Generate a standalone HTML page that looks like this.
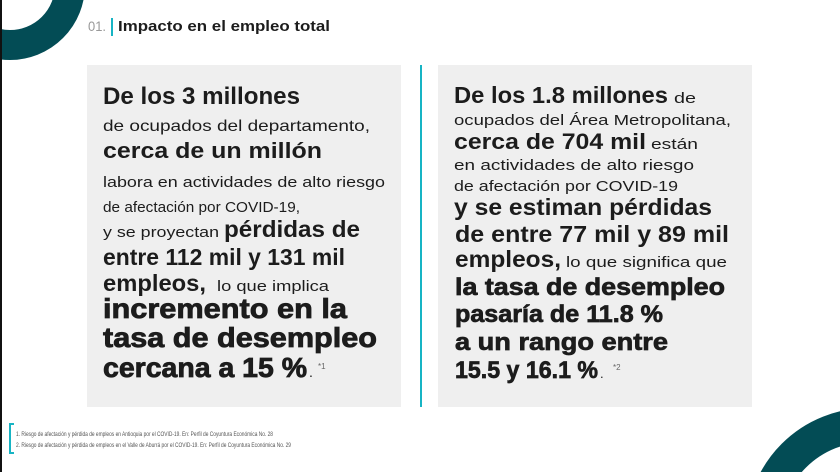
<!DOCTYPE html>
<html><head><meta charset="utf-8"><style>
html,body{margin:0;padding:0;background:#fff;width:840px;height:472px;overflow:hidden;}
svg{display:block;overflow:hidden;}
text{font-family:"Liberation Sans",sans-serif;fill:#1c1c1c;}
.b{font-weight:bold;}
.r{font-weight:normal;}
</style></head><body>
<svg width="840" height="472" viewBox="0 0 840 472" xmlns="http://www.w3.org/2000/svg">
<defs><clipPath id="c"><rect width="840" height="472"/></clipPath></defs>
<rect width="840" height="472" fill="#fff"/>
<g clip-path="url(#c)">
<circle cx="10" cy="-15" r="60" fill="none" stroke="#034c55" stroke-width="30"/>
<circle cx="868" cy="530" r="105" fill="none" stroke="#034c55" stroke-width="34"/>
</g>
<rect x="0" y="0" width="2" height="472" fill="#111"/>
<text x="88" y="31" font-size="14" style="fill:#999" textLength="18" lengthAdjust="spacingAndGlyphs">01.</text>
<rect x="111" y="18" width="2" height="18" fill="#17b4c4"/>
<text class="b" x="118" y="31" font-size="15" textLength="212" lengthAdjust="spacingAndGlyphs">Impacto en el empleo total</text>
<rect x="87" y="65" width="314" height="342" fill="#efefef"/>
<rect x="438" y="65" width="314" height="342" fill="#efefef"/>
<rect x="420" y="65" width="2" height="342" fill="#17b4c4"/>
<!-- left -->
<text class="b" x="103" y="104" font-size="24" textLength="197" lengthAdjust="spacingAndGlyphs">De los 3 millones</text>
<text class="r" x="103" y="131" font-size="16" textLength="267" lengthAdjust="spacingAndGlyphs">de ocupados del departamento,</text>
<text class="b" x="103" y="158" font-size="22" textLength="219" lengthAdjust="spacingAndGlyphs">cerca de un millón</text>
<text class="r" x="103" y="187" font-size="15" textLength="282" lengthAdjust="spacingAndGlyphs">labora en actividades de alto riesgo</text>
<text class="r" x="103" y="212" font-size="15" textLength="197" lengthAdjust="spacingAndGlyphs">de afectación por COVID-19,</text>
<text class="r" x="103" y="237" font-size="15" textLength="116" lengthAdjust="spacingAndGlyphs">y se proyectan</text>
<text class="b" x="224" y="237" font-size="23" textLength="136" lengthAdjust="spacingAndGlyphs">pérdidas de</text>
<text class="b" x="103" y="265" font-size="23" textLength="242" lengthAdjust="spacingAndGlyphs">entre 112 mil y 131 mil</text>
<text class="b" x="103" y="291" font-size="23" textLength="103" lengthAdjust="spacingAndGlyphs">empleos,</text>
<text class="r" x="217" y="291" font-size="15" textLength="112" lengthAdjust="spacingAndGlyphs">lo que implica</text>
<text class="b" x="103" y="318" font-size="28" textLength="244" lengthAdjust="spacingAndGlyphs" stroke="#1c1c1c" stroke-width="0.8">incremento en la</text>
<text class="b" x="103" y="347" font-size="28" textLength="274" lengthAdjust="spacingAndGlyphs" stroke="#1c1c1c" stroke-width="0.8">tasa de desempleo</text>
<text class="b" x="103" y="377" font-size="28" textLength="204" lengthAdjust="spacingAndGlyphs" stroke="#1c1c1c" stroke-width="0.8">cercana a 15 %</text>
<text class="r" x="309" y="377" font-size="14">.</text>
<text class="r" x="318" y="369" font-size="8" style="fill:#666">*1</text>
<!-- right -->
<text class="b" x="454" y="103" font-size="23" textLength="214" lengthAdjust="spacingAndGlyphs">De los 1.8 millones</text>
<text class="r" x="674" y="103" font-size="15" textLength="22" lengthAdjust="spacingAndGlyphs">de</text>
<text class="r" x="454" y="125" font-size="15" textLength="277" lengthAdjust="spacingAndGlyphs">ocupados del Área Metropolitana,</text>
<text class="b" x="454" y="149" font-size="22" textLength="192" lengthAdjust="spacingAndGlyphs">cerca de 704 mil</text>
<text class="r" x="651" y="149" font-size="15" textLength="47" lengthAdjust="spacingAndGlyphs">están</text>
<text class="r" x="454" y="170" font-size="15" textLength="240" lengthAdjust="spacingAndGlyphs">en actividades de alto riesgo</text>
<text class="r" x="454" y="191" font-size="15" textLength="224" lengthAdjust="spacingAndGlyphs">de afectación por COVID-19</text>
<text class="b" x="454" y="215" font-size="23" textLength="258" lengthAdjust="spacingAndGlyphs">y se estiman pérdidas</text>
<text class="b" x="455" y="242" font-size="23" textLength="274" lengthAdjust="spacingAndGlyphs">de entre 77 mil y 89 mil</text>
<text class="b" x="455" y="267" font-size="23" textLength="106" lengthAdjust="spacingAndGlyphs">empleos,</text>
<text class="r" x="566" y="267" font-size="15" textLength="161" lengthAdjust="spacingAndGlyphs">lo que significa que</text>
<text class="b" x="455" y="295" font-size="24" textLength="270" lengthAdjust="spacingAndGlyphs" stroke="#1c1c1c" stroke-width="0.7">la tasa de desempleo</text>
<text class="b" x="455" y="322" font-size="24" textLength="208" lengthAdjust="spacingAndGlyphs" stroke="#1c1c1c" stroke-width="0.7">pasaría de 11.8 %</text>
<text class="b" x="455" y="350" font-size="24" textLength="213" lengthAdjust="spacingAndGlyphs" stroke="#1c1c1c" stroke-width="0.7">a un rango entre</text>
<text class="b" x="455" y="378" font-size="24" textLength="143" lengthAdjust="spacingAndGlyphs" stroke="#1c1c1c" stroke-width="0.7">15.5 y 16.1 %</text>
<text class="r" x="600" y="378" font-size="13">.</text>
<text class="r" x="613" y="370" font-size="8" style="fill:#666">*2</text>
<!-- footnotes -->
<path d="M14 424 H10 V453 H14" fill="none" stroke="#17b4c4" stroke-width="2"/>
<text class="r" x="16" y="436" font-size="6.5" style="fill:#555" textLength="257" lengthAdjust="spacingAndGlyphs">1. Riesgo de afectación y pérdida de empleos en Antioquia por el COVID-19. En: Perfil de Coyuntura Económica No. 28</text>
<text class="r" x="16" y="447" font-size="6.5" style="fill:#555" textLength="275" lengthAdjust="spacingAndGlyphs">2. Riesgo de afectación y pérdida de empleos en el Valle de Aburrá por el COVID-19. En: Perfil de Coyuntura Económica No. 29</text>
</svg>
</body></html>
